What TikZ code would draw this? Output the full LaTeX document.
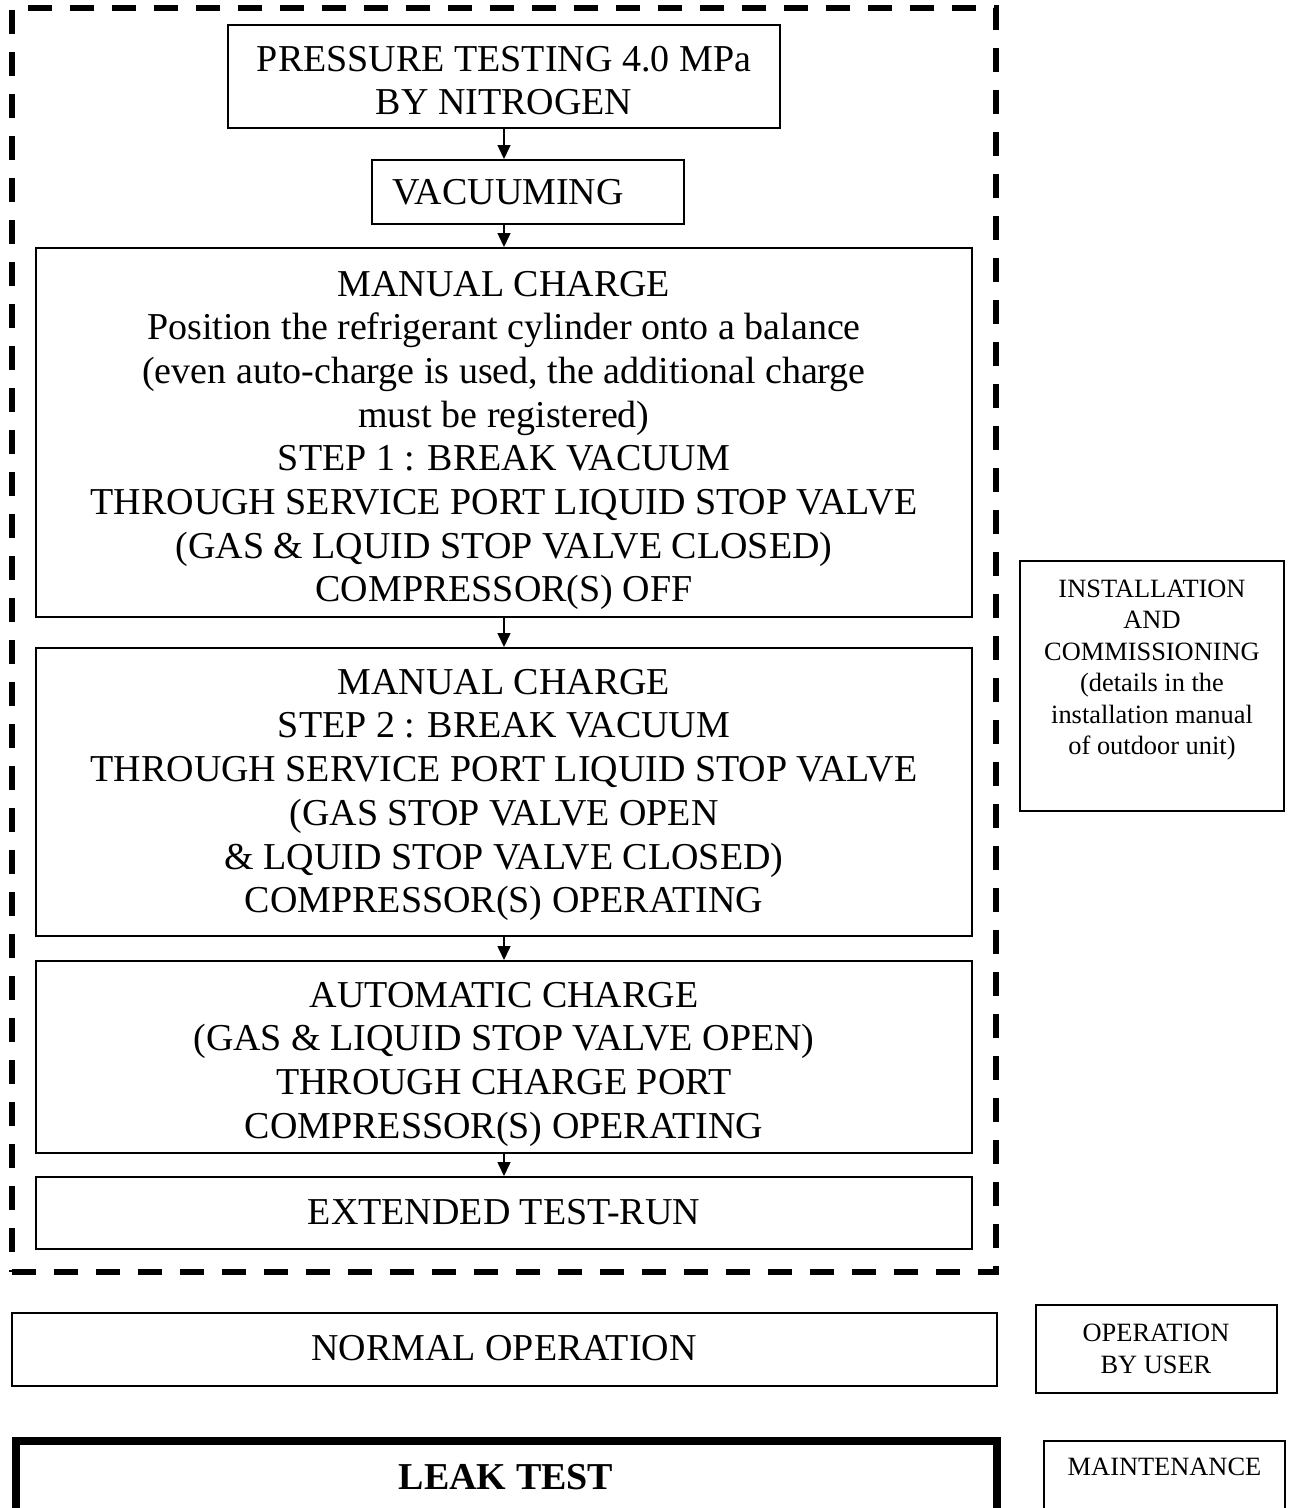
\documentclass[tikz,border=0pt]{standalone}
\usepackage{fontspec}
\setmainfont{Liberation Serif}
\usetikzlibrary{arrows.meta}
\begin{document}
\begin{tikzpicture}[x=1pt,y=-1pt,
  box/.style={draw,line width=2pt,inner sep=0pt},
  sidetext/.style={inner sep=0pt,align=center,font=\fontsize{26.4}{31.4}\selectfont},
  bigtext/.style={inner sep=0pt,align=center,font=\fontsize{38}{43.7}\selectfont},
  frame/.style={draw,line width=6pt,dash pattern=on 24pt off 18pt,inner sep=0pt},
  flow/.style={-{Triangle[length=14pt,width=13pt]},line width=1.5pt}]
\useasboundingbox (0,0) rectangle (1290,1508);
\clip (0,0) rectangle (1290,1508);

\node[frame,minimum width=984pt,minimum height=1264pt] (frame) at (504,640) {};

\node[box,minimum width=552pt,minimum height=103pt] (b1) at (504,76.5) {};
\node[bigtext] (b1t) at (504,80.5) {PRESSURE TESTING 4.0 MPa\\BY NITROGEN};

\node[box,minimum width=312pt,minimum height=64pt] (b2) at (528,192) {};
\node[bigtext] (b2t) at (508,192) {VACUUMING};

\node[box,minimum width=936pt,minimum height=369pt] (b3) at (504,432.5) {};
\node[bigtext] (b3t) at (504,440.5)
  {MANUAL CHARGE\\
   Position the refrigerant cylinder onto a balance\\
   (even auto-charge is used, the additional charge\\
   must be registered)\\
   STEP 1 : BREAK VACUUM\\
   THROUGH SERVICE PORT LIQUID STOP VALVE\\
   (GAS \& LQUID STOP VALVE CLOSED)\\
   COMPRESSOR(S) OFF};

\node[box,minimum width=936pt,minimum height=288pt] (b4) at (504,792) {};
\node[bigtext] (b4t) at (504,795)
  {MANUAL CHARGE\\
   STEP 2 : BREAK VACUUM\\
   THROUGH SERVICE PORT LIQUID STOP VALVE\\
   (GAS STOP VALVE OPEN\\
   \& LQUID STOP VALVE CLOSED)\\
   COMPRESSOR(S) OPERATING};

\node[box,minimum width=936pt,minimum height=192pt] (b5) at (504,1057) {};
\node[bigtext] (b5t) at (504,1064)
  {AUTOMATIC CHARGE\\
   (GAS \& LIQUID STOP VALVE OPEN)\\
   THROUGH CHARGE PORT\\
   COMPRESSOR(S) OPERATING};

\node[box,minimum width=936pt,minimum height=72pt] (b6) at (504,1213) {};
\node[bigtext] (b6t) at (504,1212) {EXTENDED TEST-RUN};

\draw[flow] (b1.south) -- (b1.south |- b2.north);
\draw[flow] (b1.south |- b2.south) -- (b1.south |- b3.north);
\draw[flow] (b3.south) -- (b4.north);
\draw[flow] (b4.south) -- (b5.north);
\draw[flow] (b5.south) -- (b6.north);

\node[box,minimum width=264pt,minimum height=250pt] (inst) at (1152,686) {};
\node[sidetext] (insttext) at (1152,670)
  {INSTALLATION\\AND\\COMMISSIONING\\(details in the\\installation manual\\of outdoor unit)};

\node[box,minimum width=985pt,minimum height=73pt] (normal) at (504.5,1349.5) {};
\node[bigtext] (normaltext) at (504,1348) {NORMAL OPERATION};

\node[box,minimum width=241pt,minimum height=88pt] (oper) at (1156.5,1349) {};
\node[sidetext] (opertext) at (1156,1349) {OPERATION\\BY USER};

\node[draw,line width=8pt,inner sep=0pt,minimum width=981pt,minimum height=119pt] (leak) at (506.5,1500.5) {};
\node[bigtext] (leaktext) at (506,1477) {\bfseries LEAK TEST};

\node[box,minimum width=241pt,minimum height=118pt] (maint) at (1164.5,1500) {};
\node[sidetext] (mainttext) at (1164.5,1467) {MAINTENANCE};
\end{tikzpicture}
\end{document}
